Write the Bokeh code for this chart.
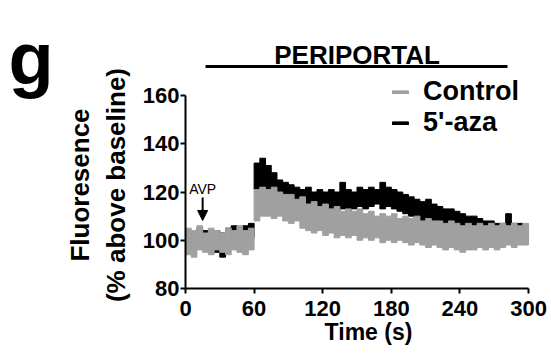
import math
from bokeh.plotting import figure
from bokeh.layouts import row
from bokeh.core.properties import value
from bokeh.models import Range1d, FixedTicker, Label, Arrow, NormalHead, Legend, LegendItem, ColumnDataSource
from bokeh.embed import file_html
from bokeh.resources import INLINE

# ---------------- data ----------------
t_bins = list(range(0, 300, 5))  # 5-s bins, start time (s)

control_hi = [105, 104, 106, 103, 105, 104, 103, 105, 104, 106, 104, 105,
              121, 122, 121, 122, 120, 119, 119, 117, 118, 115, 116, 114,
              115, 113, 114, 112, 113, 112, 113, 111, 112, 110, 111, 110,
              111, 109, 110, 109, 110, 108, 109, 108, 108, 107, 108, 107,
              106, 107, 106, 107, 106, 107, 106, 107, 106, 107, 106, 107]
control_lo = [94, 93, 96, 95, 94, 96, 95, 94, 96, 95, 94, 96,
              108, 110, 110, 109, 110, 108, 107, 108, 105, 104, 103, 104,
              102, 103, 101, 102, 101, 102, 100, 101, 100, 101, 99, 100,
              99, 100, 99, 98, 99, 98, 97, 98, 97, 96, 97, 96,
              95, 96, 96, 97, 96, 97, 96, 97, 98, 97, 98, 98]
aza_hi = [104, 103, 105, 104, 103, 104, 103, 105, 106, 105, 106, 107,
          132, 134, 131, 128, 125, 124, 123, 122, 121, 122, 120, 121,
          120, 121, 120, 124, 121, 120, 122, 121, 122, 121, 124, 122,
          121, 120, 119, 118, 117, 116, 117, 115, 114, 113, 113, 112,
          111, 110, 110, 109, 108, 108, 107, 107, 111, 107, 107, 106]
aza_lo = [97, 96, 97, 96, 97, 95, 93, 97, 98, 99, 100, 101,
          121, 122, 121, 120, 118, 117, 116, 115, 114, 113, 113, 112,
          112, 113, 112, 113, 112, 113, 114, 113, 114, 115, 113, 114,
          113, 112, 111, 110, 109, 108, 108, 107, 106, 106, 105, 105,
          104, 104, 103, 103, 102, 102, 102, 101, 101, 101, 101, 100]

x_ticks = [0, 60, 120, 180, 240, 300]
y_ticks = [80, 100, 120, 140, 160]
series_names = ["Control", "5'-aza"]
y_label_lines = ["Fluoresence", "(% above baseline)"]
x_label = "Time (s)"
avp_time = 15
title_text = "PERIPORTAL"
bar_span = (17.5, 281.6)
panel_letter = "g"

FONT = "Liberation Sans"
GRAY = "#a0a0a0"
BIN = 5
PAD = "\u00a0" * 9  # shifts the centred y title down to the axis span

# ---------------- panel letter strip ----------------
g_fig = figure(width=60, height=355, output_backend="svg", toolbar_location=None,
               x_range=Range1d(0, 60), y_range=Range1d(355, 0),
               min_border_left=0, min_border_right=0, min_border_top=0, min_border_bottom=0)
g_fig.axis.visible = False
g_fig.grid.visible = False
g_fig.outline_line_color = None
g_fig.text(x=[8], y=[1], text=[panel_letter], text_font=value(FONT), text_font_style="bold",
           text_font_size="74px", text_baseline="top", text_color="black")

# ---------------- main chart ----------------
p = figure(width=491, height=355, output_backend="svg", toolbar_location=None,
           x_range=Range1d(0, 320.1), y_range=Range1d(80, 192.75),
           min_border_left=125, min_border_right=0, min_border_top=16, min_border_bottom=67)
p.grid.visible = False
p.outline_line_color = None
p.background_fill_color = "white"

src_aza = ColumnDataSource(dict(x=[t + BIN / 2 for t in t_bins], top=aza_hi, bottom=aza_lo))
src_ctl = ColumnDataSource(dict(x=[t + BIN / 2 for t in t_bins], top=control_hi, bottom=control_lo))
r_aza = p.vbar(x="x", width=BIN, top="top", bottom="bottom", source=src_aza,
               fill_color="black", line_color="black", line_width=1)
r_ctl = p.vbar(x="x", width=BIN, top="top", bottom="bottom", source=src_ctl,
               fill_color=GRAY, line_color=GRAY, line_width=1)

for ax in (p.xaxis[0], p.yaxis[0]):
    ax.axis_line_width = 2
    ax.major_tick_line_width = 2
    ax.major_tick_out = 5
    ax.major_tick_in = 0
    ax.minor_tick_line_color = None
    ax.major_label_text_font = FONT
    ax.major_label_text_font_style = "bold"
    ax.major_label_text_font_size = "22px"
    ax.major_label_text_color = "black"
    ax.axis_label_text_font = FONT
    ax.axis_label_text_font_style = "bold"
    ax.axis_label_text_color = "black"

p.xaxis.bounds = (0, 300)
p.yaxis.bounds = (80, 160)
p.xaxis.ticker = FixedTicker(ticks=x_ticks)
p.yaxis.ticker = FixedTicker(ticks=y_ticks)
p.xaxis.axis_label = x_label
p.xaxis.axis_label_text_font_size = "23px"
p.xaxis.major_label_standoff = 7
p.xaxis.axis_label_standoff = 0
p.yaxis.major_label_standoff = 1
p.yaxis.axis_label = "\n".join(line + PAD for line in y_label_lines)
p.yaxis.axis_label_text_font_size = "26px"
p.yaxis.axis_label_standoff = 9

# region title + bar
p.add_layout(Label(x=(bar_span[0] + bar_span[1]) / 2 + 0.5, y=176.6, text=title_text, text_font=FONT,
                   text_font_style="bold", text_font_size="26px", text_align="center",
                   text_baseline="alphabetic", text_color="black"))
p.segment(x0=[bar_span[0]], x1=[bar_span[1]], y0=[172.0], y1=[172.0], line_color="black", line_width=3)

# AVP marker
p.add_layout(Label(x=avp_time, y=121.4, text="AVP", text_font=FONT, text_font_size="14px",
                   text_align="center", text_baseline="alphabetic", text_color="black"))
p.add_layout(Arrow(x_start=avp_time, y_start=117.7, x_end=avp_time, y_end=108.2, line_width=2,
                   end=NormalHead(size=10, fill_color="black", line_color="black")))

legend = Legend(items=[LegendItem(label=series_names[0], renderers=[r_ctl]),
                       LegendItem(label=series_names[1], renderers=[r_aza])],
                location=(205, 150), glyph_width=20, glyph_height=4, label_standoff=13,
                spacing=-3, padding=0, margin=0, border_line_color=None, background_fill_alpha=0,
                label_text_font=FONT, label_text_font_style="bold", label_text_font_size="27px",
                label_text_color="black")
p.add_layout(legend)

layout = row(g_fig, p, spacing=0)
open("out.html", "w").write(file_html(layout, INLINE))
